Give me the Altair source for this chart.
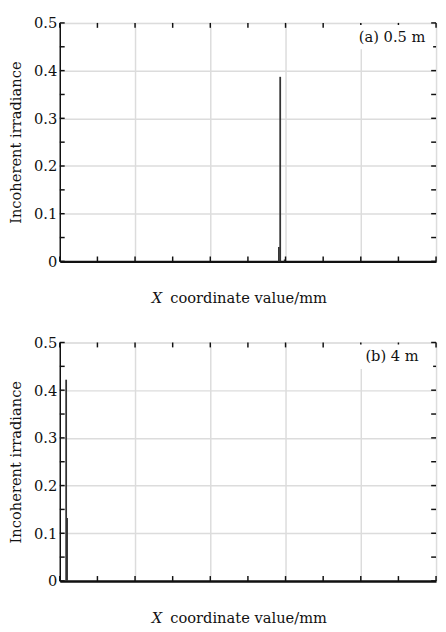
import altair as alt
import pandas as pd

# ---- data ----
x_grid = [-14.335, -11.468, -8.601, -5.734, -2.867, 0.0, 2.867, 5.734, 8.601, 11.468, 14.335]
y_grid = [0, 0.05, 0.1, 0.15, 0.2, 0.25, 0.3, 0.35, 0.4, 0.45, 0.5]

a_x = [2.36, 2.46, 2.80]
a_y = [0.030, 0.387, 0.004]
b_x = [-13.85, -13.78]
b_y = [0.422, 0.132]

panel_labels = ["(a) 0.5 m", "(b) 4 m"]

W, H = 385, 244
FONT = "DejaVu Serif"
FS = 15

label_expr = ("abs(datum.value) < 0.01 ? '0' : "
              "abs(datum.value - 5.734) < 0.01 ? '5.734' : "
              "abs(datum.value + 5.734) < 0.01 ? '\u22125.734' : "
              "abs(datum.value - 11.468) < 0.01 ? '11.47' : "
              "abs(datum.value + 11.468) < 0.01 ? '\u221211.47' : ''")
y_label_expr = ("abs(datum.value*10 - round(datum.value*10)) < 0.01 ? "
                "(datum.value == 0 ? '0' : format(datum.value, '.1f')) : ''")

xs = alt.Scale(domain=[x_grid[0], x_grid[-1]], nice=False, zero=False)
ys = alt.Scale(domain=[0, 0.5], nice=False)


def panel(px, py, label, show_title=True):
    df = pd.DataFrame({"x": px, "y": py})
    base = alt.Chart(df)
    spikes = base.mark_rule(color="#333333", strokeWidth=1.8).encode(
        x=alt.X("x:Q", scale=xs,
                axis=alt.Axis(values=x_grid, labelExpr=label_expr, title=None,
                              grid=True, gridColor="#dcdcdc", gridWidth=1.5,
                              domainColor="#111111", domainWidth=2.5, ticks=False,
                              labelFont=FONT, labelFontSize=FS, labelColor="#111111",
                              labelPadding=6, labelFlush=False, labelOverlap=False)),
        y=alt.Y("y:Q", scale=ys,
                axis=alt.Axis(values=y_grid, labelExpr=y_label_expr,
                              title="Incoherent irradiance", titleFont=FONT,
                              titleFontSize=FS, titleFontWeight="normal",
                              titleColor="#111111", titlePadding=10,
                              grid=True, gridColor="#dcdcdc", gridWidth=1.5,
                              domainColor="#111111", domainWidth=1.5, ticks=False,
                              labelFont=FONT, labelFontSize=FS, labelColor="#111111",
                              labelPadding=3, labelOverlap=False, labelFlush=False)),
        y2=alt.datum(0),
    )
    xt = pd.DataFrame({"v": x_grid})
    yt = pd.DataFrame({"v": y_grid})
    xticks_b = alt.Chart(xt).mark_rule(color="#111111", strokeWidth=1.5).encode(
        x=alt.X("v:Q", scale=xs), y=alt.value(H), y2=alt.value(H - 5))
    xticks_t = alt.Chart(xt).mark_rule(color="#111111", strokeWidth=1.5).encode(
        x=alt.X("v:Q", scale=xs), y=alt.value(0), y2=alt.value(5))
    yticks_l = alt.Chart(yt).mark_rule(color="#111111", strokeWidth=1.5).encode(
        y=alt.Y("v:Q", scale=ys), x=alt.value(0), x2=alt.value(5))
    yticks_r = alt.Chart(yt).mark_rule(color="#111111", strokeWidth=1.5).encode(
        y=alt.Y("v:Q", scale=ys), x=alt.value(W), x2=alt.value(W - 5))
    one = alt.Chart(pd.DataFrame({"t": [label]}))
    box = one.mark_rect(color="white").encode(
        x=alt.value(300), x2=alt.value(382), y=alt.value(2), y2=alt.value(27))
    txt = one.mark_text(font=FONT, fontSize=FS, color="#111111",
                        align="center", baseline="middle").encode(
        text="t:N", x=alt.value(340), y=alt.value(14))
    t_x = one.mark_text(font=FONT, fontSize=FS, fontStyle="italic", color="#111111",
                        align="left", baseline="middle", text="X").encode(
        x=alt.value(94), y=alt.value(H + 38))
    t_rest = one.mark_text(font=FONT, fontSize=FS, color="#111111",
                           align="left", baseline="middle",
                           text="coordinate value/mm").encode(
        x=alt.value(113), y=alt.value(H + 38))
    return alt.layer(spikes, xticks_b, xticks_t, yticks_l, yticks_r, box, txt,
                     t_x, t_rest).properties(width=W, height=H)


chart = alt.vconcat(
    panel(a_x, a_y, panel_labels[0]),
    panel(b_x, b_y, panel_labels[1]),
    spacing=28,
).properties(padding={"left": 0, "top": 0, "right": 0, "bottom": 0}).configure_view(
    stroke="#222222", strokeWidth=2
).configure(background="white")

chart.save("out.html", embed_options={"renderer": "svg", "actions": False})
